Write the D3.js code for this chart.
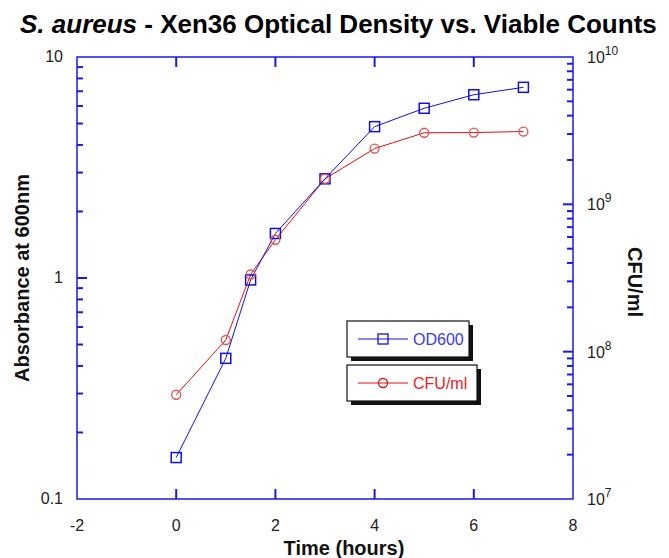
<!DOCTYPE html>
<html>
<head>
<meta charset="utf-8">
<script src="https://cdn.jsdelivr.net/npm/d3@7"></script>
<style>
  body { margin: 0; background: #fff; }
  text { font-family: "Liberation Sans", Arial, sans-serif; }
</style>
</head>
<body>
<div id="chart"></div>
<script>
const hours = [0, 1, 1.5, 2, 3, 4, 5, 6, 7];
const od600 = [0.154, 0.433, 0.98, 1.59, 2.81, 4.84, 5.86, 6.75, 7.29];
const cfu = [5.1e7, 1.2e8, 3.34e8, 5.75e8, 1.49e9, 2.39e9, 3.06e9, 3.07e9, 3.12e9];
const xTicks = [-2, 0, 2, 4, 6, 8];
const odTicks = [0.1, 1, 10];
const cfuExp = [7, 8, 9, 10];

const width = 669, height = 558,
  margin = ({ top: 57, right: 96, bottom: 59, left: 77 });

const axisBlue = "#1a1ae6", tickText = "#222";

const x = d3.scaleLinear()
  .domain([-2, 8])
  .range([margin.left, width - margin.right]);

const y = d3.scaleLog()
  .domain([0.1, 10])
  .range([height - margin.bottom, margin.top]);

const y2 = d3.scaleLog()
  .domain([1e7, 1e10])
  .range([height - margin.bottom, margin.top]);

const svg = d3.select("#chart")
  .append("svg")
  .attr("width", width)
  .attr("height", height)
  .attr("viewBox", [0, 0, width, height]);

const pl = margin.left, pr = width - margin.right,
  pt = margin.top, pb = height - margin.bottom;

// frame
svg.append("rect")
  .attr("x", pl).attr("y", pt)
  .attr("width", pr - pl).attr("height", pb - pt)
  .attr("fill", "none")
  .attr("stroke", axisBlue)
  .attr("stroke-width", 1.5);

// tick marks, all pointing inward
const inner = xTicks.filter(d => d > -2 && d < 8);
const leftTicks = [];
[0.1, 1].forEach(dec => {
  for (let k = 1; k <= 9; k++) leftTicks.push({ v: dec * k, major: k === 1 });
});
const rightTicks = [];
[1e7, 1e8, 1e9].forEach(dec => {
  for (let k = 1; k <= 9; k++) rightTicks.push({ v: dec * k, major: k === 1 });
});

const tickSegs = [];
inner.forEach(d => {
  tickSegs.push([x(d), pb, x(d), pb - 10]);
  tickSegs.push([x(d), pt, x(d), pt + 10]);
});
leftTicks.filter(d => d.v > 0.1).forEach(d => {
  tickSegs.push([pl, y(d.v), pl + (d.major ? 10 : 6), y(d.v)]);
});
rightTicks.filter(d => d.v > 1e7).forEach(d => {
  tickSegs.push([pr, y2(d.v), pr - (d.major ? 10 : 6), y2(d.v)]);
});

svg.append("g").selectAll("line")
  .data(tickSegs)
  .join("line")
  .attr("x1", s => s[0]).attr("y1", s => s[1])
  .attr("x2", s => s[2]).attr("y2", s => s[3])
  .attr("stroke", axisBlue)
  .attr("stroke-width", 2);

svg.append("g").selectAll("text")
  .data(xTicks)
  .join("text")
  .attr("x", d => x(d))
  .attr("y", pb + 32)
  .attr("text-anchor", "middle")
  .attr("font-size", 16)
  .attr("fill", tickText)
  .text(d => d);

svg.append("g").selectAll("text")
  .data(odTicks)
  .join("text")
  .attr("x", pl - 14)
  .attr("y", d => y(d) + 5)
  .attr("text-anchor", "end")
  .attr("font-size", 16)
  .attr("fill", tickText)
  .text(d => d);

const rl = svg.append("g").selectAll("text")
  .data(cfuExp)
  .join("text")
  .attr("x", pr + 14)
  .attr("y", d => y2(Math.pow(10, d)) + 6)
  .attr("font-size", 16)
  .attr("fill", tickText);
rl.append("tspan").text("10");
rl.append("tspan")
  .attr("dy", -8)
  .attr("font-size", 12)
  .text(d => d);

// series
const lineOD = d3.line().x((d, i) => x(hours[i])).y(d => y(d));
const lineCFU = d3.line().x((d, i) => x(hours[i])).y(d => y2(d));

svg.append("path")
  .datum(cfu)
  .attr("d", lineCFU)
  .attr("fill", "none")
  .attr("stroke", "#e01010")
  .attr("stroke-width", 1);

svg.append("path")
  .datum(od600)
  .attr("d", lineOD)
  .attr("fill", "none")
  .attr("stroke", "#1010e0")
  .attr("stroke-width", 1);

svg.append("g").selectAll("rect")
  .data(od600)
  .join("rect")
  .attr("x", (d, i) => x(hours[i]) - 5)
  .attr("y", d => y(d) - 5)
  .attr("width", 10).attr("height", 10)
  .attr("fill", "none")
  .attr("stroke", "#1010e0")
  .attr("stroke-width", 1.5);

svg.append("g").selectAll("circle")
  .data(cfu)
  .join("circle")
  .attr("cx", (d, i) => x(hours[i]))
  .attr("cy", d => y2(d))
  .attr("r", 4.5)
  .attr("fill", "none")
  .attr("stroke", "#e85050")
  .attr("stroke-width", 1.3);

// legend
const legend = [
  { name: "OD600", color: "#1010e0", text: "#3a3af0", shape: "square", y: 321, w: 122 },
  { name: "CFU/ml", color: "#e01010", text: "#f02020", shape: "circle", y: 365, w: 130 }
];
const lg = svg.append("g").selectAll("g")
  .data(legend)
  .join("g")
  .attr("transform", d => `translate(347,${d.y})`);
lg.append("rect")
  .attr("x", 4).attr("y", 4)
  .attr("width", d => d.w).attr("height", 36)
  .attr("fill", "#111");
lg.append("rect")
  .attr("width", d => d.w).attr("height", 36)
  .attr("fill", "#fff")
  .attr("stroke", "#111")
  .attr("stroke-width", 1.2);
lg.append("line")
  .attr("x1", 11).attr("x2", 61)
  .attr("y1", 18).attr("y2", 18)
  .attr("stroke", d => d.color);
lg.filter(d => d.shape === "square").append("rect")
  .attr("x", 31).attr("y", 13).attr("width", 10).attr("height", 10)
  .attr("fill", "none").attr("stroke", d => d.color).attr("stroke-width", 1.3);
lg.filter(d => d.shape === "circle").append("circle")
  .attr("cx", 36).attr("cy", 18).attr("r", 4.5)
  .attr("fill", "none").attr("stroke", d => d.color).attr("stroke-width", 1.3);
lg.append("text")
  .attr("x", 66).attr("y", 24)
  .attr("font-size", 16)
  .attr("fill", d => d.text)
  .text(d => d.name);

// titles
const title = svg.append("text")
  .attr("x", 20).attr("y", 33)
  .attr("font-size", 26)
  .attr("font-weight", "bold")
  .attr("fill", "#000");
title.append("tspan").attr("font-style", "italic").text("S. aureus");
title.append("tspan").text(" - Xen36 Optical Density vs. Viable Counts");

svg.append("text")
  .attr("transform", `translate(29,278) rotate(-90)`)
  .attr("text-anchor", "middle")
  .attr("font-size", 20)
  .attr("font-weight", "bold")
  .attr("fill", "#111")
  .text("Absorbance at 600nm");

svg.append("text")
  .attr("transform", `translate(628,282) rotate(90)`)
  .attr("text-anchor", "middle")
  .attr("font-size", 20)
  .attr("font-weight", "bold")
  .attr("fill", "#111")
  .text("CFU/ml");

svg.append("text")
  .attr("x", 344)
  .attr("y", 555)
  .attr("text-anchor", "middle")
  .attr("font-size", 20)
  .attr("font-weight", "bold")
  .attr("fill", "#111")
  .text("Time (hours)");
</script>
</body>
</html>
